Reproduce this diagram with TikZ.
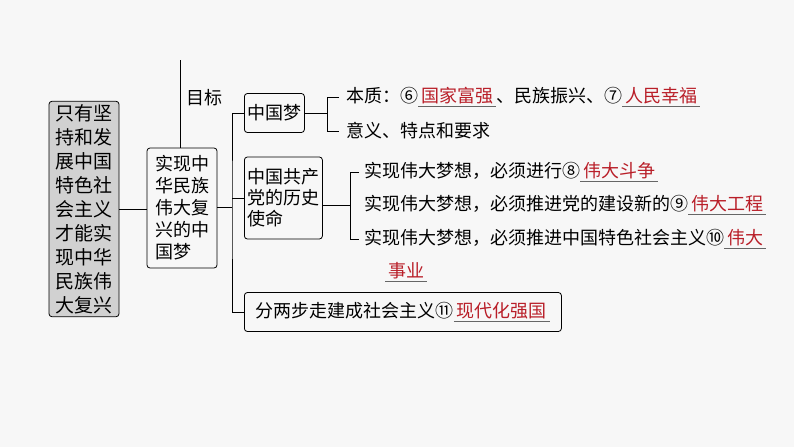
\documentclass[tikz,border=0pt]{standalone}
\usepackage{fontspec}
\setmainfont{Noto Sans CJK SC}
\usetikzlibrary{positioning}
\definecolor{ansred}{RGB}{185,30,40}
\definecolor{bggray}{RGB}{247,247,247}
\newcommand\fillin[1]{\leavevmode\setbox0\hbox{\,#1\,}\rlap{\raisebox{-4pt}{\color{black!60}\rule{\wd0}{0.7pt}}}\textcolor{ansred}{\box0}}
\tikzset{
  box/.style={draw,thick,rounded corners=3pt,inner sep=3pt,align=left,font=\fontsize{18}{21}\selectfont},
  item/.style={inner sep=1pt,anchor=west,font=\fontsize{18}{21}\selectfont},
  link/.style={thick}
}
\begin{document}
\begin{tikzpicture}[x=1pt,y=-1pt]
\fill[bggray] (0,0) rectangle (794,447);
\useasboundingbox (0,0) rectangle (794,447);
\node[box,fill=black!18,minimum width=70pt,minimum height=212pt,font=\fontsize{19}{24}\selectfont] (whole) at (84,209) {只有坚\\持和发\\展中国\\特色社\\会主义\\才能实\\现中华\\民族伟\\大复兴};
\node[box,minimum width=70pt,minimum height=120pt,font=\fontsize{18}{22}\selectfont] (dream) at (182,208) {实现中\\华民族\\伟大复\\兴的中\\国梦};
\coordinate (top) at (180,60);
\node[item] (goal) at (185,98) {目标};
\draw[link] (whole.east |- 0,209) -- (dream.west |- 0,209);
\draw[link] (top) -- (top |- dream.north);
% right side boxes
\node[box,anchor=west,minimum height=39pt] (cdream) at (244,113) {中国梦};
\node[box,anchor=west,minimum height=82pt] (mission) at (244,198) {中国共产\\党的历史\\使命};
\node[box,anchor=west,minimum width=317pt,minimum height=39pt] (steps) at (244,312) {分两步走建成社会主义⑪\fillin{现代化强国}};
\coordinate (fork) at (232,207);
\draw[link] (dream.east |- fork) -- (fork);
\draw[link] (cdream.west) -| (fork) |- (steps.west);
\draw[link] (fork |- mission.west) -- (mission.west);
% 中国梦
\node[item] (essence) at (345,97) {本质：⑥\fillin{国家富强}、民族振兴、⑦\fillin{人民幸福}};
\node[item] (meaning) at (345,131) {意义、特点和要求};
\coordinate (fa) at (327,113);
\draw[link] (cdream.east) -- (fa);
\draw[link] ([xshift=-6pt]essence.west) -- (fa |- essence.west) -- (fa |- meaning.west) -- ([xshift=-6pt]meaning.west);
% 使命
\node[item] (struggle) at (363,172) {实现伟大梦想，必须进行⑧\fillin{伟大斗争}};
\node[item] (project) at (363,205) {实现伟大梦想，必须推进党的建设新的⑨\fillin{伟大工程}};
\node[item] (cause) at (363,239) {实现伟大梦想，必须推进中国特色社会主义⑩\fillin{伟大}};
\node[item] (cause2) at (384,272) {\fillin{事业}};
\coordinate (fb) at (350,205);
\draw[link] (mission.east |- fb) -- (fb);
\draw[link] ([xshift=-4pt]struggle.west) -- (fb |- struggle.west) -- (fb |- cause.west) -- ([xshift=-4pt]cause.west);
\end{tikzpicture}
\end{document}
